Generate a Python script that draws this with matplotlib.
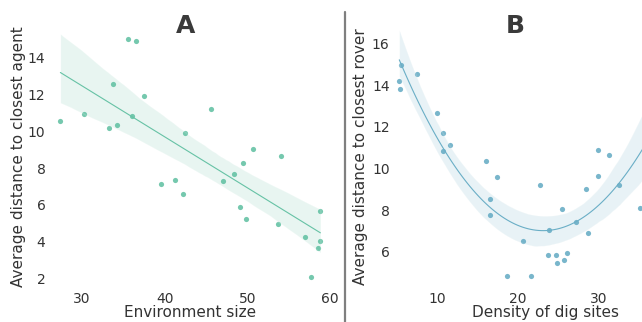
import matplotlib
matplotlib.use("Agg")
import matplotlib.pyplot as plt
from matplotlib.lines import Line2D
import numpy as np
import seaborn as sns

# Panel A data
env_size = [27.4, 30.3, 33.7, 33.3, 34.3, 35.6, 36.5, 36.0, 37.5, 39.5, 41.2, 42.2,
            42.5, 45.6, 47.0, 48.4, 49.4, 49.1, 49.8, 50.7, 53.7, 54.0, 56.9, 57.7,
            58.5, 58.8, 58.8]
dist_agent = [10.55, 10.95, 12.55, 10.2, 10.37, 15.04, 14.93, 10.85, 11.93, 7.12, 7.34, 6.58,
              9.93, 11.24, 7.27, 7.70, 8.28, 5.87, 5.25, 9.03, 4.96, 8.65, 4.23, 2.07,
              3.65, 4.02, 5.67]

# Panel B data (the last points lie beyond the cropped right edge)
dig_density = [5.28, 5.32, 5.44, 7.47, 10.0, 10.7, 10.66, 11.6, 16.04, 17.45, 16.5, 16.5,
               18.65, 20.7, 21.6, 22.75, 23.8, 23.9, 24.8, 24.86, 25.45, 25.73, 26.15, 27.2,
               28.46, 28.7, 29.9, 30.0, 31.3, 32.6, 35.2,
               36.4, 37.6]
dist_rover = [14.19, 13.8, 14.95, 14.53, 12.67, 11.70, 10.85, 11.13, 10.34, 9.61, 8.54, 7.78,
              4.81, 6.50, 4.85, 9.19, 5.82, 7.02, 5.85, 5.44, 8.06, 5.60, 5.94, 7.41,
              9.03, 6.92, 10.90, 9.64, 10.65, 9.19, 8.09,
              13.2, 11.6]

color_a = "#66c2a5"
color_b = "#6aaec6"
text_color = "#333333"

sns.set_style("white")
plt.rcParams['font.family'] = ['DejaVu Sans']

fig = plt.figure(figsize=(6.42, 3.22), dpi=100)
ax_a = fig.add_axes([0.073, 0.099, 0.446, 0.830])
ax_b = fig.add_axes([0.609, 0.099, 0.481, 0.830])

sns.regplot(x=np.array(env_size), y=np.array(dist_agent), ax=ax_a, color=color_a,
            scatter_kws=dict(s=14, alpha=0.9, linewidths=0),
            line_kws=dict(lw=0.8), seed=1)
sns.regplot(x=np.array(dig_density), y=np.array(dist_rover), ax=ax_b, color=color_b,
            order=2, truncate=True,
            scatter_kws=dict(s=14, alpha=0.9, linewidths=0),
            line_kws=dict(lw=0.8), seed=1)

ax_a.set_xlim(25.77, 60.35)
ax_a.set_ylim(1.36, 15.9)
ax_a.set_xticks([30, 40, 50, 60])
ax_a.set_yticks([2, 4, 6, 8, 10, 12, 14])
ax_b.set_xlim(4.25, 42.6)
ax_b.set_ylim(4.15, 17.0)
ax_b.set_xticks([10, 20, 30])
ax_b.set_yticks([6, 8, 10, 12, 14, 16])

for ax in (ax_a, ax_b):
    for s in ax.spines.values():
        s.set_visible(False)
    ax.tick_params(length=0, labelsize=10, labelcolor=text_color, pad=1)

ax_a.set_xlabel("Environment size", fontsize=11, color=text_color, labelpad=-0.5)
ax_a.set_ylabel("Average distance to closest agent", fontsize=11, color=text_color, labelpad=1.5)
ax_b.set_xlabel("Density of dig sites", fontsize=11, color=text_color, labelpad=-0.5)
ax_b.set_ylabel("Average distance to closest rover", fontsize=11, color=text_color, labelpad=2.5)

fig.text(186 / 642, 1 - 33 / 322, "A", fontsize=18, fontweight="bold", color="#3a3a3a",
         ha="center", va="baseline")
fig.text(515 / 642, 1 - 33 / 322, "B", fontsize=18, fontweight="bold", color="#3a3a3a",
         ha="center", va="baseline")

fig.add_artist(Line2D([345 / 642, 345 / 642], [0, 1 - 12 / 322], transform=fig.transFigure,
                      color="#7f7f7f", lw=1.6))

fig.savefig("out.png", dpi=100)
